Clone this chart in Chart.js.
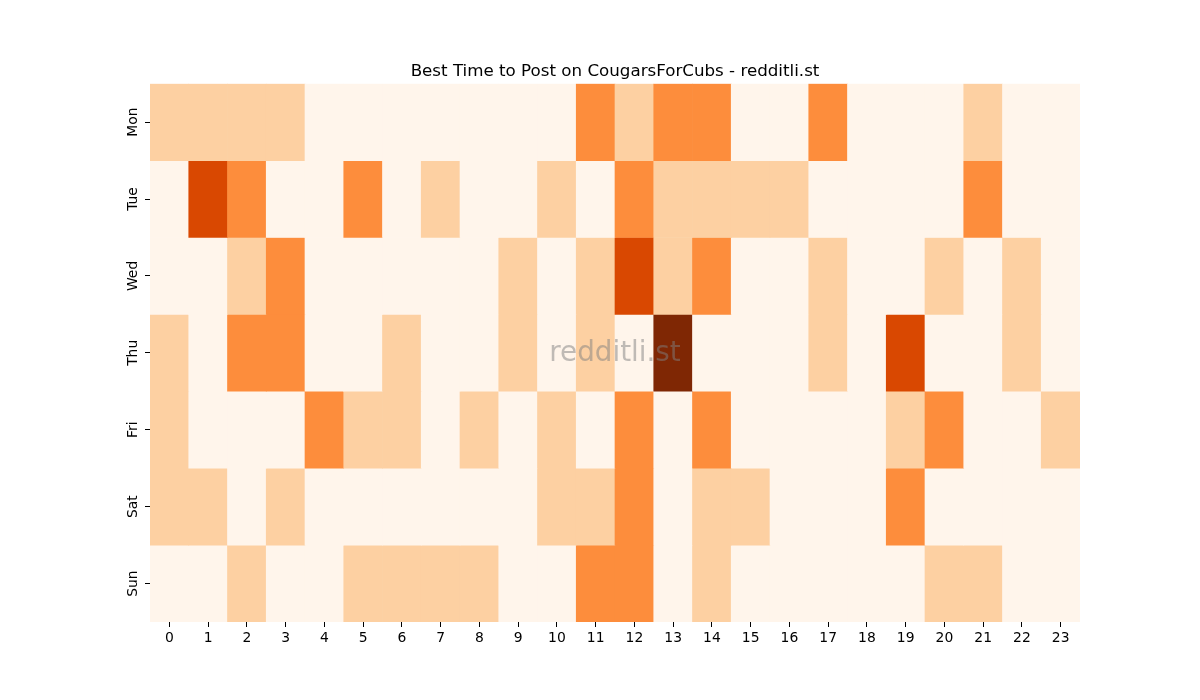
<!DOCTYPE html>
<html lang="en">
  <head>
    <meta charset="UTF-8" />
    <title>Best Time to Post on CougarsForCubs</title>
    <script src="https://cdn.jsdelivr.net/npm/chart.js"></script>
    <style>
      html, body { margin: 0; padding: 0; background: #fff; }
      #wrap { width: 1200px; height: 700px; position: relative; }
    </style>
  </head>
  <body>
    <div id="wrap"><canvas id="heat"></canvas></div>
    <script>
      // hours along the bottom, days down the side
      var hours = ["0","1","2","3","4","5","6","7","8","9","10","11","12","13","14","15","16","17","18","19","20","21","22","23"];
      var days = ["Mon", "Tue", "Wed", "Thu", "Fri", "Sat", "Sun"];

      // post score per hour, one array per day (0..4)
      var mon = [1,1,1,1,0,0,0,0,0,0,0,2,1,2,2,0,0,2,0,0,0,1,0,0];
      var tue = [0,3,2,0,0,2,0,1,0,0,1,0,2,1,1,1,1,0,0,0,0,2,0,0];
      var wed = [0,0,1,2,0,0,0,0,0,1,0,1,3,1,2,0,0,1,0,0,1,0,1,0];
      var thu = [1,0,2,2,0,0,1,0,0,1,0,1,0,4,0,0,0,1,0,3,0,0,1,0];
      var fri = [1,0,0,0,2,1,1,0,1,0,1,0,2,0,2,0,0,0,0,1,2,0,0,1];
      var sat = [1,1,0,1,0,0,0,0,0,0,1,1,2,0,1,1,0,0,0,2,0,0,0,0];
      var sun = [0,0,1,0,0,1,1,1,1,0,0,2,2,0,1,0,0,0,0,0,1,1,0,0];
      var scores = [mon, tue, wed, thu, fri, sat, sun];

      // Oranges colormap steps
      var palette = ["#fff5eb", "#fdd0a2", "#fd8d3c", "#d94801", "#7f2704"];

      var datasets = scores.map(function (row, d) {
        return {
          label: days[d],
          data: row.map(function () { return [d, d + 1]; }),
          backgroundColor: row.map(function (v) { return palette[v]; }),
          borderWidth: 0,
          grouped: false,
          barPercentage: 1,
          categoryPercentage: 1
        };
      });

      var watermark = {
        id: "watermark",
        afterDatasetsDraw: function (chart) {
          var a = chart.chartArea;
          var ctx = chart.ctx;
          ctx.save();
          ctx.font = "27.8px 'DejaVu Sans'";
          ctx.fillStyle = "rgba(128,128,128,0.5)";
          ctx.textAlign = "center";
          ctx.textBaseline = "middle";
          ctx.fillText("redditli.st", (a.left + a.right) / 2, (a.top + a.bottom) / 2 + 1);
          ctx.restore();
        }
      };

      Chart.defaults.font.family = "'DejaVu Sans'";
      Chart.defaults.color = "#000";

      new Chart(document.getElementById("heat"), {
        type: "bar",
        data: { labels: hours, datasets: datasets },
        plugins: [watermark],
        options: {
          responsive: true,
          maintainAspectRatio: false,
          animation: false,
          layout: { padding: { left: 0, right: 120, top: 62, bottom: 0 } },
          plugins: {
            legend: { display: false },
            tooltip: { enabled: false },
            title: {
              display: true,
              fullSize: false,
              text: "Best Time to Post on CougarsForCubs - redditli.st",
              font: { size: 16.7, weight: "normal" },
              color: "#000",
              padding: { top: 0, bottom: 1.6 }
            }
          },
          scales: {
            x: {
              grid: { offset: false, drawOnChartArea: false, drawTicks: true, tickLength: 5, color: "#000" },
              border: { display: false },
              ticks: { font: { size: 13.9 }, padding: 3, maxRotation: 0, autoSkip: false },
              afterFit: function (s) { s.height = 78; }
            },
            y: {
              min: 0,
              max: 7,
              reverse: true,
              grid: { drawOnChartArea: false, drawTicks: true, tickLength: 5, color: "#000" },
              border: { display: false },
              afterBuildTicks: function (s) {
                s.ticks = days.map(function (_, i) { return { value: i + 0.5 }; });
              },
              ticks: {
                font: { size: 13.9 },
                minRotation: 90,
                maxRotation: 90,
                crossAlign: "center",
                padding: -4,
                callback: function (v) { return days[Math.floor(v)]; }
              },
              afterFit: function (s) { s.width = 150; }
            }
          }
        }
      });
    </script>
  </body>
</html>
